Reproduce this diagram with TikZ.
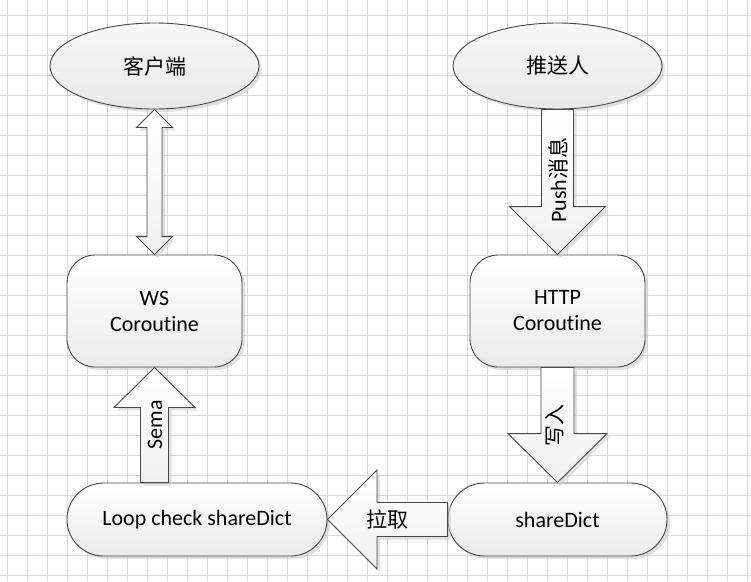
\documentclass[tikz,border=0pt]{standalone}
\usepackage{fontspec}
\setmainfont{Carlito}[Ligatures=NoCommon]
\newfontfamily\cjk{Noto Sans CJK SC}
\usetikzlibrary{shapes.geometric,shadows,calc}
\tikzset{
  gridline/.style={draw=black!15, line width=1pt},
  softshadow/.style={drop shadow={shadow xshift=3pt, shadow yshift=-3pt, fill=black!20, opacity=0.6}},
  shapebase/.style={draw=black!72, line width=0.9pt, top color=white, bottom color=black!8, softshadow, inner sep=0pt, text=black},
  ovalnode/.style={shapebase, ellipse, top color=black!3, bottom color=black!9, minimum width=209pt, minimum height=86pt, font=\cjk\fontsize{21}{25}\selectfont},
  boxnode/.style={shapebase, rectangle, rounded corners=28pt, minimum width=175pt, minimum height=112pt, align=center, font=\fontsize{22}{26}\selectfont},
  pillnode/.style={shapebase, rectangle, rounded corners=36.5pt, minimum height=73pt, font=\fontsize{22}{26}\selectfont},
  blockarrow/.style={draw=black!72, line width=0.9pt, top color=white, bottom color=black!6, softshadow},
  arrowlabel/.style={inner sep=0pt, font=\fontsize{22}{26}\selectfont},
  cjklabel/.style={inner sep=0pt, font=\cjk\fontsize{21}{25}\selectfont}
}
\begin{document}
\begin{tikzpicture}[x=1pt,y=-1pt]
\useasboundingbox (0,0) rectangle (751,581);
\fill[white] (0,0) rectangle (751,581);
\foreach \i in {0,...,37} \draw[gridline] (7.5+20*\i,0) -- (7.5+20*\i,581);
\foreach \j in {0,...,28} \draw[gridline] (0,15+20*\j) -- (751,15+20*\j);

% nodes
\node[ovalnode] (client) at (154.5,66) {客户端};
\node[ovalnode] (pusher) at (557.5,66) {推送人};
\node[boxnode] (ws) at (154.5,311) {WS\\Coroutine};
\node[boxnode] (http) at (557.5,311) {HTTP\\Coroutine};
\node[pillnode, minimum width=260pt] (loop) at (197,519.5) {Loop check shareDict};
\node[pillnode, minimum width=219pt] (sd) at (557.5,519.5) {shareDict};

% double arrow client <-> ws
\path[blockarrow] (client.south) -- ($(client.south)+(18,18)$) -- ($(client.south)+(7.5,18)$)
  -- ($(ws.north)+(7.5,-18)$) -- ($(ws.north)+(18,-18)$) -- (ws.north)
  -- ($(ws.north)+(-18,-18)$) -- ($(ws.north)+(-7.5,-18)$)
  -- ($(client.south)+(-7.5,18)$) -- ($(client.south)+(-18,18)$) -- cycle;

% push arrow pusher -> http
\path[blockarrow] ($(pusher.south)+(-16,0)$) -- ($(http.north)+(-16,-48)$) -- ($(http.north)+(-48,-48)$)
  -- (http.north) -- ($(http.north)+(48,-48)$) -- ($(http.north)+(16,-48)$) -- ($(pusher.south)+(16,0)$) -- cycle;
\node[arrowlabel, rotate=90] (lpush) at ($(pusher.south)!0.5!(http.north)+(0.5,-2)$) {Push{\cjk\fontsize{21}{25}\selectfont 消息}};

% write arrow http -> sd
\path[blockarrow] ($(http.south)+(-16.5,0)$) -- ($(sd.north)+(-16.5,-49)$) -- ($(sd.north)+(-49.5,-49)$)
  -- (sd.north) -- ($(sd.north)+(49.5,-49)$) -- ($(sd.north)+(16.5,-49)$) -- ($(http.south)+(16.5,0)$) -- cycle;
\node[cjklabel, rotate=90] (lwrite) at ($(http.south)!0.5!(sd.north)+(-2.5,0)$) {写入};

% sema arrow loop -> ws
\coordinate (semabase) at (ws.south |- loop.north);
\path[blockarrow] ($(semabase)+(-14,0)$) -- ($(ws.south)+(-14,40)$) -- ($(ws.south)+(-40.5,40)$)
  -- (ws.south) -- ($(ws.south)+(40.5,40)$) -- ($(ws.south)+(14,40)$) -- ($(semabase)+(14,0)$) -- cycle;
\node[arrowlabel, rotate=90] (lsema) at ($(ws.south)!0.5!(semabase)+(0.5,0)$) {Sema};

% pull arrow sd -> loop
\path[blockarrow] ($(sd.west)+(0,-17)$) -- ($(loop.east)+(49.5,-17)$) -- ($(loop.east)+(49.5,-49.5)$)
  -- (loop.east) -- ($(loop.east)+(49.5,49.5)$) -- ($(loop.east)+(49.5,17)$) -- ($(sd.west)+(0,17)$) -- cycle;
\node[cjklabel] (lpull) at ($(loop.east)!0.5!(sd.west)$) {拉取};
\end{tikzpicture}
\end{document}
